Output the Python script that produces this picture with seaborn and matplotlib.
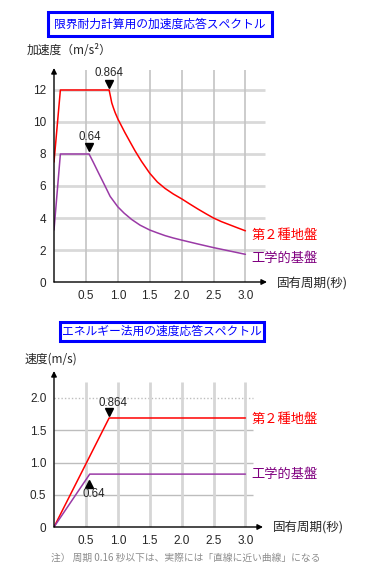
import matplotlib
matplotlib.use("Agg")
import matplotlib.pyplot as plt
import seaborn as sns
from matplotlib.patches import Rectangle

sns.set_style("white")
plt.rcParams['font.family'] = ['Noto Sans CJK JP', 'DejaVu Sans']

# --- data ---
# upper chart: acceleration response spectrum (m/s^2)
acc_t_ground = [0, 0.1, 0.864, 0.885, 0.905, 0.93, 0.957, 1.0, 1.11, 1.2, 1.27, 1.37,
                1.5, 1.62, 1.74, 1.87, 2.0, 2.13, 2.26, 2.38, 2.5, 2.62, 2.75, 2.88, 3.0]
acc_ground = [7.5, 12, 12, 11.6, 11.2, 10.9, 10.6, 10.2, 9.35, 8.7, 8.2, 7.55,
              6.8, 6.25, 5.85, 5.5, 5.2, 4.87, 4.55, 4.27, 4.0, 3.78, 3.58, 3.38, 3.2]
acc_t_base = [0, 0.1, 0.55, 0.62, 0.70, 0.75, 0.80, 0.88, 1.0, 1.1, 1.22, 1.35, 1.5,
              1.62, 1.74, 1.87, 2.0, 2.25, 2.5, 2.75, 3.0]
acc_base = [3.25, 8, 8, 7.45, 6.8, 6.4, 6.0, 5.35, 4.7, 4.3, 3.9, 3.55, 3.25,
            3.07, 2.9, 2.75, 2.62, 2.38, 2.15, 1.94, 1.73]

# lower chart: velocity response spectrum (m/s)
vel_t_ground = [0, 0.864, 3.0]
vel_ground = [0, 1.69, 1.69]
vel_t_base = [0, 0.56, 3.0]
vel_base = [0, 0.82, 0.82]

x_ticks = [0.5, 1.0, 1.5, 2.0, 2.5, 3.0]
x_tick_labels = ["0.5", "1.0", "1.5", "2.0", "2.5", "3.0"]
acc_y_ticks = [0, 2, 4, 6, 8, 10, 12]
vel_y_ticks = [0, 0.5, 1.0, 1.5, 2.0]
vel_y_labels = ["0", "0.5", "1.0", "1.5", "2.0"]

RED = "#ff0000"
PURPLE_LINE = "#9a3aa6"
PURPLE_TXT = "#800080"
BLUE = "#0000ff"
NUM = ['Liberation Sans', 'DejaVu Sans']

W, H = 370, 582
fig = plt.figure(figsize=(W / 100, H / 100), dpi=100)


def fx(px):
    return px / W


def fy(py):
    return 1 - py / H


def setup_axes(ax, xmax, ymax):
    ax.set_xlim(0, xmax)
    ax.set_ylim(0, ymax)
    for s in ax.spines.values():
        s.set_visible(False)
    ax.set_facecolor("none")
    # axis arrows
    ax.annotate("", xy=(1, 0), xytext=(0, 0), xycoords="axes fraction",
                arrowprops=dict(arrowstyle="-|>", color="black", lw=1, mutation_scale=8,
                                shrinkA=0, shrinkB=0))
    ax.annotate("", xy=(0, 1), xytext=(0, 0), xycoords="axes fraction",
                arrowprops=dict(arrowstyle="-|>", color="black", lw=1, mutation_scale=8,
                                shrinkA=0, shrinkB=0))
    ax.tick_params(axis="both", direction="inout", length=8, width=0.9, color="#333333",
                   labelsize=8.5, pad=1.5)
    ax.set_xticks(x_ticks)
    ax.set_xticklabels(x_tick_labels, family=NUM)


# ---------------- upper chart ----------------
ax1 = fig.add_axes([fx(54), fy(282), fx(267 - 54), (282 - 68) / H])
setup_axes(ax1, (267 - 54) / 63.8, (282 - 68) / 16)
ax1.hlines(acc_y_ticks[1:], 0, 3.3, color="#d9d9d9", lw=2, zorder=0)
ax1.vlines(x_ticks, 0, 13.25, color="#c4c4c4", lw=1.2, zorder=0)
ax1.set_yticks(acc_y_ticks)
ax1.set_yticklabels([str(v) for v in acc_y_ticks], family=NUM)

sns.lineplot(x=acc_t_ground, y=acc_ground, ax=ax1, color=RED, lw=1.1,
             sort=False, estimator=None)
sns.lineplot(x=acc_t_base, y=acc_base, ax=ax1, color=PURPLE_LINE, lw=1.1,
             sort=False, estimator=None)

ax1.text(0.86, 13.06, "0.864", ha="center", va="center", fontsize=8.3, family=NUM)
ax1.plot([0.862], [12.4], marker="v", color="black", ms=5.5, clip_on=False)
ax1.text(0.565, 9.06, "0.64", ha="center", va="center", fontsize=8.3, family=NUM)
ax1.plot([0.55], [8.45], marker="v", color="black", ms=5.5, clip_on=False)

ax1.text(3.1, 2.9, "第２種地盤", color=RED, fontsize=9.5, va="center", ha="left",
         clip_on=False)
ax1.text(3.1, 1.45, "工学的基盤", color=PURPLE_TXT, fontsize=9.5, va="center", ha="left",
         clip_on=False)

fig.text(fx(27), fy(51), "加速度（m/s²）", fontsize=8.5, va="center", ha="left")
fig.text(fx(277), fy(283), "固有周期(秒)", fontsize=9, va="center", ha="left")

fig.patches.append(Rectangle((fx(48), fy(36)), fx(272 - 48), (36 - 12) / H,
                             transform=fig.transFigure, fill=True, facecolor="white",
                             edgecolor=BLUE, lw=2.2))
fig.text(fx(160), fy(24), "限界耐力計算用の加速度応答スペクトル", color=BLUE,
         fontsize=8.5, ha="center", va="center")

# ---------------- lower chart ----------------
ax2 = fig.add_axes([fx(54), fy(527), fx(263 - 54), (527 - 371) / H])
setup_axes(ax2, (263 - 54) / 63.8, (527 - 371) / 64.5)
ax2.hlines(vel_y_ticks[1:4], 0, 3.12, color="#bdbdbd", lw=1, zorder=0)
ax2.hlines([2.0], 0, 3.12, color="#bdbdbd", lw=1, linestyles=(0, (1, 1.5)), zorder=0)
ax2.vlines(x_ticks, 0, 2.25, color="#d6d6d6", lw=2, zorder=0)
ax2.set_yticks(vel_y_ticks)
ax2.set_yticklabels(vel_y_labels, family=NUM)

sns.lineplot(x=vel_t_ground, y=vel_ground, ax=ax2, color=RED, lw=1.1,
             sort=False, estimator=None)
sns.lineplot(x=vel_t_base, y=vel_base, ax=ax2, color=PURPLE_LINE, lw=1.1,
             sort=False, estimator=None)

ax2.text(0.925, 1.92, "0.864", ha="center", va="center", fontsize=8.3, family=NUM)
ax2.plot([0.86], [1.78], marker="v", color="black", ms=5.5, clip_on=False)
ax2.text(0.63, 0.51, "0.64", ha="center", va="center", fontsize=8.3, family=NUM)
ax2.plot([0.55], [0.67], marker="^", color="black", ms=5.5, clip_on=False)

ax2.text(3.1, 1.67, "第２種地盤", color=RED, fontsize=9.5, va="center", ha="left",
         clip_on=False)
ax2.text(3.1, 0.81, "工学的基盤", color=PURPLE_TXT, fontsize=9.5, va="center", ha="left",
         clip_on=False)

fig.text(fx(25), fy(359), "速度(m/s)", fontsize=8.5, va="center", ha="left")
fig.text(fx(273), fy(527), "固有周期(秒)", fontsize=9, va="center", ha="left")

fig.patches.append(Rectangle((fx(60), fy(341)), fx(264 - 60), (341 - 322) / H,
                             transform=fig.transFigure, fill=True, facecolor="white",
                             edgecolor=BLUE, lw=2.2))
fig.text(fx(162), fy(331.5), "エネルギー法用の速度応答スペクトル", color=BLUE,
         fontsize=8.5, ha="center", va="center")

fig.text(fx(51), fy(558), "注） 周期 0.16 秒以下は、実際には「直線に近い曲線」になる",
         color="#8c8c8c", fontsize=7, va="center", ha="left")

fig.savefig("out.png", dpi=100)
